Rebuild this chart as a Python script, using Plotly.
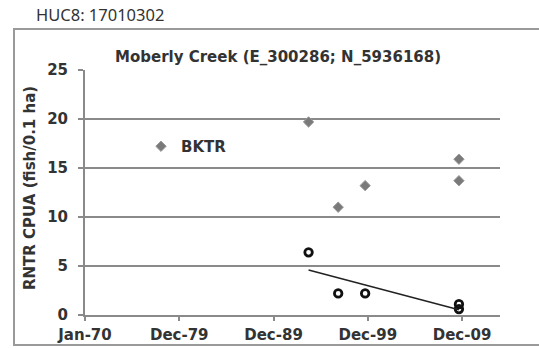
import numpy as np
import pandas as pd
import plotly.graph_objects as go

# Survey dates and catch-per-unit-area values (fish / 0.1 ha)
bktr_dates = ["1993-09-15", "1996-11-05", "1999-09-15", "2009-08-25", "2009-08-25"]
bktr_cpua = [19.7, 11.0, 13.2, 15.9, 13.7]

rntr_dates = ["1993-09-15", "1996-11-05", "1999-09-15", "2009-08-25", "2009-08-25"]
rntr_cpua = [6.4, 2.2, 2.2, 1.1, 0.6]

tick_labels = ["Jan-70", "Dec-79", "Dec-89", "Dec-99", "Dec-09"]
y_ticks = [0, 5, 10, 15, 20, 25]

# Date axis: start Jan 1970, major unit 3650 days
axis_start = pd.Timestamp("1970-01-01")
tick_vals = [axis_start + pd.Timedelta(days=3650 * i) for i in range(len(tick_labels))]
axis_end = pd.Timestamp("2014-01-01")

# Linear trend of RNTR CPUA against date
rd = pd.to_datetime(rntr_dates)
days = np.array([(d - axis_start).days for d in rd], dtype=float)
slope, intercept = np.polyfit(days, np.array(rntr_cpua), 1)
trend_days = np.array([days.min(), days.max()])
trend_x = [axis_start + pd.Timedelta(days=float(d)) for d in trend_days]
trend_y = slope * trend_days + intercept

W, H = 539, 348
L, R, T, B = 85, 39, 70, 33
pw, ph = W - L - R, H - T - B


def px(x):
    return (x - L) / pw


def py(y):
    return (H - B - y) / ph


grey = "#8a8a8a"
bold = "DejaVu Sans"

fig = go.Figure()

fig.add_trace(go.Scatter(
    x=pd.to_datetime(bktr_dates), y=bktr_cpua, mode="markers", name="BKTR",
    marker=dict(symbol="diamond", size=8, color="#7a7a7a",
                line=dict(color="#9a9a9a", width=1)),
    showlegend=True,
))

fig.add_trace(go.Scatter(
    x=rd, y=rntr_cpua, mode="markers", name="RNTR",
    marker=dict(symbol="circle-open", size=7.5, color="#111111",
                line=dict(color="#111111", width=2.8)),
    showlegend=False,
))

fig.add_trace(go.Scatter(
    x=trend_x, y=trend_y, mode="lines", name="Linear (RNTR)",
    line=dict(color="#222222", width=1.5),
    showlegend=False,
))

fig.update_layout(
    width=W, height=H,
    margin=dict(l=L, r=R, t=T, b=B, autoexpand=False),
    paper_bgcolor="white", plot_bgcolor="white",
    showlegend=True,
    legend=dict(x=px(141), y=py(130), xanchor="left", yanchor="top",
                bgcolor="rgba(0,0,0,0)", borderwidth=0,
                font=dict(family=bold, size=15, color="#333333", weight="bold"),
                itemwidth=30),
    xaxis=dict(
        range=[axis_start, axis_end], type="date", automargin=False,
        tickmode="array", tickvals=tick_vals, ticktext=tick_labels,
        ticks="outside", ticklen=4, tickcolor=grey, tickwidth=1.5,
        showline=True, linecolor=grey, linewidth=2,
        showgrid=False, zeroline=False,
        tickfont=dict(family=bold, size=15, color="#333333", weight="bold"),
        ticklabelstandoff=1,
    ),
    yaxis=dict(
        range=[0, 25], tickmode="array", tickvals=y_ticks, automargin=False,
        ticks="outside", ticklen=5, tickcolor=grey, tickwidth=1.5,
        showline=True, linecolor=grey, linewidth=2,
        showgrid=True, gridcolor=grey, gridwidth=2, zeroline=False,
        tickfont=dict(family=bold, size=15, color="#333333", weight="bold"),
        ticklabelstandoff=7,
    ),
    shapes=[dict(type="rect", xref="paper", yref="paper",
                 x0=px(14), x1=px(560), y0=py(345), y1=py(29),
                 line=dict(color="#9a9a9a", width=2), layer="below")],
    annotations=[
        dict(text="HUC8: 17010302", xref="paper", yref="paper",
             x=px(34), y=py(15), xanchor="left", yanchor="middle",
             showarrow=False,
             font=dict(family="Noto Sans", size=16.5, color="#333333")),
        dict(text="Moberly Creek (E_300286; N_5936168)", xref="paper", yref="paper",
             x=px(278), y=py(57), xanchor="center", yanchor="middle",
             showarrow=False,
             font=dict(family=bold, size=15, color="#333333", weight="bold")),
        dict(text="RNTR CPUA (fish/0.1 ha)", xref="paper", yref="paper",
             x=px(30), y=py(188), xanchor="center", yanchor="middle",
             textangle=-90, showarrow=False,
             font=dict(family=bold, size=15, color="#333333", weight="bold")),
    ],
)

fig.write_html("out.html")
